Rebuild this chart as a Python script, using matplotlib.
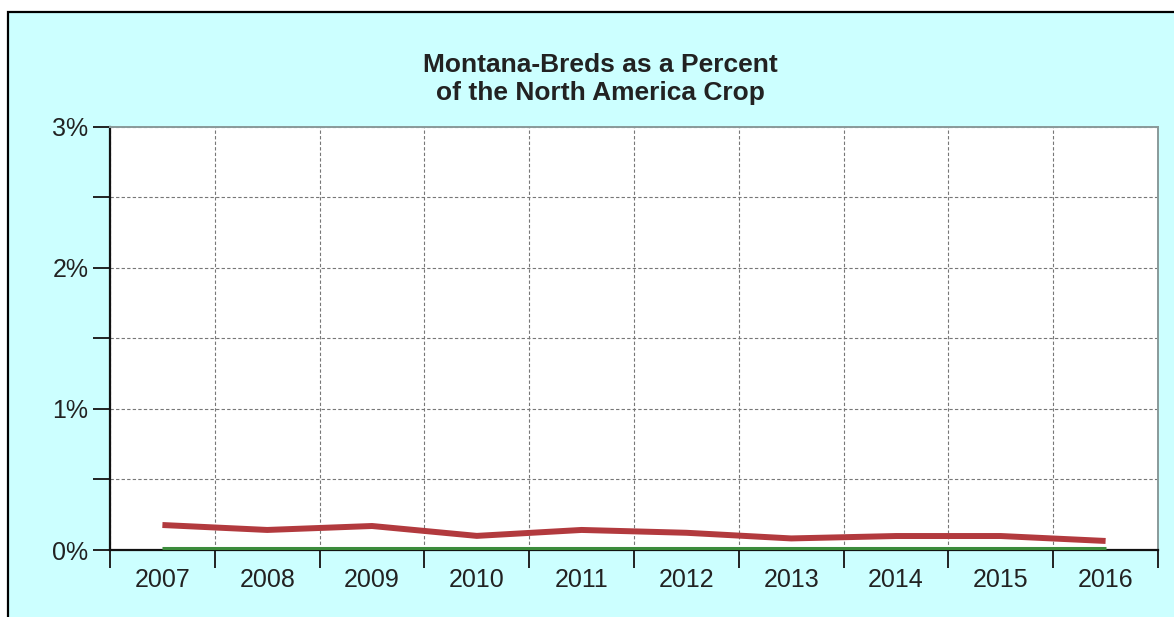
import matplotlib
matplotlib.use("Agg")
import matplotlib.pyplot as plt
from matplotlib.patches import Rectangle
from matplotlib.ticker import FixedLocator, NullFormatter, FixedFormatter

# ------------------------------------------------------------
# Data
# ------------------------------------------------------------
years = ["2007", "2008", "2009", "2010", "2011",
         "2012", "2013", "2014", "2015", "2016"]
montana_pct = [0.177, 0.142, 0.170, 0.100, 0.142,
               0.122, 0.082, 0.099, 0.099, 0.064]
baseline_pct = [0.012] * len(years)
y_ticks = [0, 1, 2, 3]
y_labels = ["0%", "1%", "2%", "3%"]

plt.rcParams["font.family"] = ["Liberation Sans", "DejaVu Sans"]

# ------------------------------------------------------------
# Figure and background panel
# ------------------------------------------------------------
W, H = 1174, 617
fig = plt.figure(figsize=(W / 100, H / 100), dpi=100, facecolor="white")
fig.patches.append(Rectangle((8 / W, -0.05), 1.1, 1 - 12 / H + 0.05,
                             transform=fig.transFigure, facecolor="#ccffff",
                             edgecolor="black", linewidth=1.6, zorder=-10))

ax = fig.add_axes([110 / W, 1 - 550 / H, (1158 - 110) / W, (550 - 126.5) / H])
ax.set_zorder(5)
ax.set_facecolor("white")

x = [i + 0.5 for i in range(len(years))]
ax.plot(x, baseline_pct, color="#3c8c3c", linewidth=2.2, solid_capstyle="butt",
        zorder=3, clip_on=False)
ax.plot(x, montana_pct, color="#b23a3e", linewidth=4.3, solid_capstyle="butt", zorder=4)

ax.set_xlim(0, len(years))
ax.set_ylim(0, 3)

# x: boundary ticks, labels centred in each category
ax.xaxis.set_major_locator(FixedLocator(range(len(years) + 1)))
ax.xaxis.set_major_formatter(NullFormatter())
ax.xaxis.set_minor_locator(FixedLocator(x))
ax.xaxis.set_minor_formatter(FixedFormatter(years))
ax.tick_params(axis="x", which="major", length=13, width=1.4, color="#222222", direction="out")
ax.tick_params(axis="x", which="minor", length=0, pad=13, labelsize=18, labelcolor="#222222")

# y: percent ticks plus half-step minor ticks
ax.set_yticks(y_ticks)
ax.set_yticklabels(y_labels)
ax.yaxis.set_minor_locator(FixedLocator([0.5, 1.5, 2.5]))
ax.tick_params(axis="y", which="both", length=12, width=1.4, color="#222222",
               direction="out", labelsize=18, labelcolor="#222222", pad=3.5)

ax.grid(True, which="major", axis="x", color="#777777", linestyle=(0, (3, 2)), linewidth=0.8)
ax.grid(True, which="both", axis="y", color="#777777", linestyle=(0, (3, 2)), linewidth=0.8)
ax.set_axisbelow(True)

for side in ["left", "bottom"]:
    ax.spines[side].set_color("#111111")
    ax.spines[side].set_linewidth(1.6)
for side in ["top", "right"]:
    ax.spines[side].set_color("#8a9a9a")
    ax.spines[side].set_linewidth(1.4)

fig.text(600 / W, 1 - 79 / H, "Montana-Breds as a Percent\nof the North America Crop",
         ha="center", va="center", fontsize=19, fontweight="bold", color="#222222",
         linespacing=1.2)

fig.savefig("out.png", dpi=100, facecolor="white")
